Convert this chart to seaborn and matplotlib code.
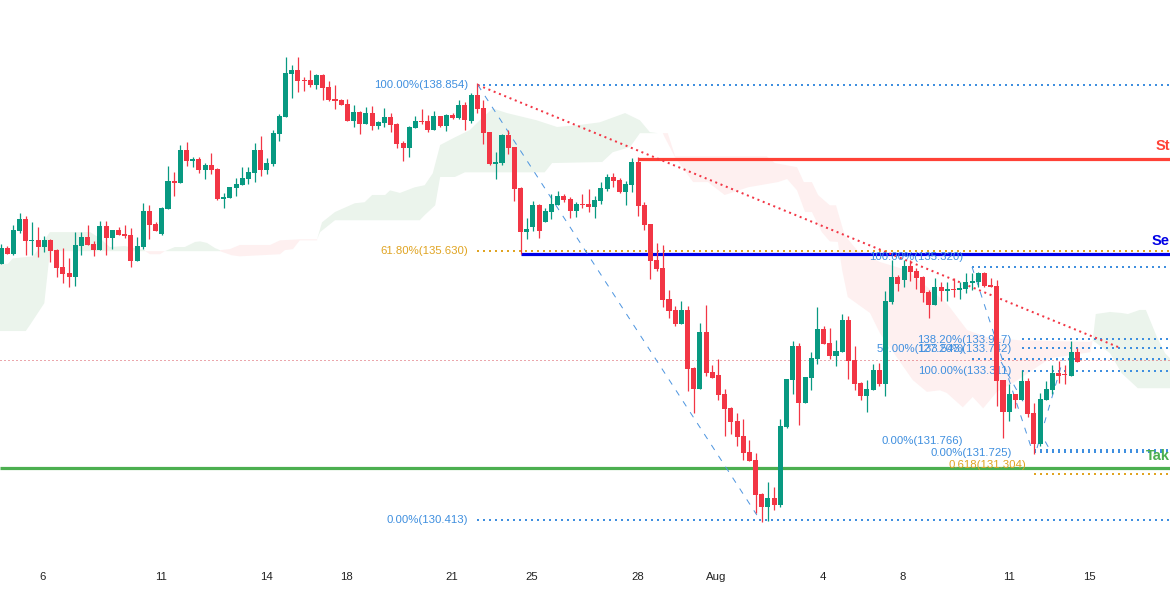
import matplotlib
matplotlib.use("Agg")
import matplotlib.pyplot as plt
import numpy as np
import pandas as pd
import seaborn as sns

direction = list("GRGGRGRGRR" "RRGGRRGRGR" "RRGGRRGGRG" "RGRGRRGGGG" "GGRGGGGGRR"
                 "RGRRRRRGRG" "RGGRRRGGRR" "GRGRGRGRRR" "GGRRRGGRGG" "GRRGRRGGGR"
                 "RGGRRRRRRR" "GRRGRRRRRR" "RRRRGRGGGR" "GGGRRGGRRR" "GGRGGRGRRR"
                 "RGRGRGGGGR" "RRRGRGRRGG" "GRRGR")

body_top = [
 135.69,135.69,136.04,136.25,136.25,135.84,135.84,135.84,135.84,135.65,
 135.32,135.20,135.75,135.90,135.90,135.77,136.12,136.12,136.04,136.04,
 135.96,135.94,135.73,136.41,136.41,136.15,136.46,136.99,136.99,137.59,
 137.59,137.42,137.42,137.30,137.30,137.22,136.68,136.87,136.93,137.05,
 137.16,137.59,137.59,137.34,137.92,138.25,139.08,139.14,139.14,138.95,
 138.95,139.05,139.05,138.81,138.58,138.56,138.48,138.33,138.33,138.31,
 138.31,138.13,138.23,138.23,138.09,137.73,138.04,138.15,138.15,138.15,
 138.25,138.25,138.27,138.27,138.46,138.46,138.66,138.66,138.40,137.94,
 137.36,137.88,137.88,137.65,136.85,136.06,136.52,136.52,136.41,136.54,
 136.70,136.70,136.64,136.54,136.54,136.54,136.62,136.85,137.07,137.07,
 137.01,136.93,137.36,137.36,136.52,136.15,135.46,135.30,134.70,134.49,
 134.49,134.49,133.36,134.06,134.06,133.28,133.23,132.86,132.59,132.33,
 132.04,131.73,131.58,130.92,130.84,130.84,132.24,133.15,133.79,133.79,
 133.19,133.56,134.12,134.12,133.85,133.69,134.29,134.29,133.52,133.07,
 132.95,133.32,133.32,134.66,135.13,135.13,135.34,135.34,135.24,135.13,
 134.84,134.93,134.93,134.89,134.89,134.91,135.03,135.05,135.20,135.20,
 134.97,134.95,133.13,132.86,132.86,133.11,133.11,132.49,132.76,132.95,
 133.26,133.26,133.24,133.67,133.67]
body_bottom = [
 135.38,135.57,135.57,136.02,135.82,135.82,135.71,135.71,135.63,135.30,
 135.18,135.13,135.13,135.73,135.75,135.65,135.65,135.88,135.88,135.94,
 135.92,135.44,135.44,135.71,136.13,136.02,135.96,136.44,136.95,136.95,
 137.38,137.38,137.20,137.20,137.20,136.64,136.64,136.66,136.85,136.91,
 137.03,137.14,137.20,137.20,137.32,137.90,138.23,139.06,138.93,138.93,
 138.85,138.85,138.79,138.56,138.54,138.46,138.15,138.15,138.09,138.09,
 138.06,138.06,138.11,138.08,137.71,137.63,137.63,138.02,138.13,137.98,
 137.98,138.06,138.06,138.21,138.21,138.17,138.15,138.39,137.92,137.32,
 137.32,137.34,137.63,136.83,136.00,136.00,136.10,136.02,136.19,136.39,
 136.52,136.62,136.41,136.41,136.52,136.48,136.48,136.60,136.83,136.99,
 136.78,136.78,136.91,136.50,136.14,135.44,135.28,134.68,134.47,134.21,
 134.21,133.34,132.95,132.95,133.26,133.17,132.84,132.57,132.31,132.02,
 131.71,131.56,130.90,130.66,130.66,130.70,130.70,132.22,133.13,132.68,
 132.68,133.17,133.54,133.83,133.59,133.59,133.67,133.50,133.05,132.82,
 132.82,132.93,133.05,133.05,134.64,134.99,135.07,135.22,135.11,134.82,
 134.58,134.58,134.85,134.85,134.87,134.87,134.89,135.01,135.03,134.95,
 134.93,133.11,132.51,132.51,132.74,132.74,132.47,131.89,131.89,132.74,
 132.93,133.21,133.22,133.21,133.48]
high = [
 135.77,135.73,136.13,136.37,136.31,136.19,136.10,135.92,135.86,135.67,
 135.69,135.49,136.00,136.00,136.13,135.82,136.21,136.21,136.04,136.10,
 136.13,136.08,135.90,136.56,136.52,136.19,136.48,137.28,137.16,137.69,
 137.75,137.45,137.45,137.34,137.53,137.24,136.76,136.87,137.05,137.26,
 137.26,137.73,137.86,137.43,137.98,138.29,139.39,139.24,139.39,139.01,
 139.14,139.06,139.06,138.93,138.85,138.58,138.58,138.46,138.35,138.42,
 138.44,138.15,138.40,138.31,138.11,137.76,138.06,138.25,138.39,138.27,
 138.35,138.25,138.29,138.31,138.56,138.52,138.70,138.89,138.56,137.94,
 137.55,137.90,137.98,137.65,136.87,136.27,136.60,136.54,136.46,136.74,
 136.79,136.74,136.68,136.58,136.74,136.83,136.70,136.97,137.12,137.14,
 137.05,136.99,137.44,137.45,136.58,136.15,135.79,135.75,134.87,134.56,
 134.66,134.56,133.38,134.23,134.58,133.42,133.54,132.95,132.60,132.49,
 132.37,131.96,131.71,130.94,131.15,131.05,132.37,133.15,133.88,133.85,
 133.19,133.67,134.54,134.18,134.14,133.90,134.41,134.37,133.79,133.09,
 133.13,133.44,133.46,134.85,135.46,135.17,135.46,135.46,135.30,135.15,
 134.87,135.11,135.03,135.03,135.11,135.03,135.20,135.20,135.22,135.22,
 135.11,135.07,133.13,133.05,132.86,133.32,133.17,132.68,132.88,133.11,
 133.42,133.50,133.42,133.89,133.75]
low = [
 135.38,135.57,135.55,135.98,135.55,135.55,135.51,135.61,135.42,135.13,
 135.01,134.93,134.95,135.55,135.75,135.53,135.65,135.55,135.67,135.94,
 135.88,135.32,135.44,135.67,135.86,136.02,135.94,136.44,136.70,136.95,
 137.28,137.26,137.14,137.03,137.12,136.62,136.46,136.66,136.70,136.91,
 136.93,136.97,137.09,137.12,137.28,137.76,138.23,138.60,138.71,138.73,
 138.81,138.77,138.56,138.54,138.39,138.46,138.15,138.04,137.90,138.09,
 137.98,138.00,138.04,137.94,137.63,137.38,137.45,138.02,138.09,137.94,
 137.98,138.04,137.96,138.19,138.19,137.98,138.11,138.31,137.71,137.30,
 137.03,137.30,137.51,136.60,135.57,135.86,136.02,135.88,136.19,136.25,
 136.52,136.58,136.27,136.29,136.46,136.39,136.27,136.54,136.79,136.87,
 136.76,136.52,136.78,136.31,136.04,135.09,135.24,134.54,134.33,134.18,
 134.21,132.91,132.49,132.95,133.21,133.17,132.74,132.04,132.08,131.85,
 131.58,131.56,130.55,130.38,130.39,130.61,130.66,132.20,132.86,132.26,
 132.68,132.93,133.44,133.83,133.54,133.40,133.67,133.15,132.93,132.74,
 132.51,132.93,133.01,132.82,134.60,134.85,134.93,135.05,134.89,134.64,
 134.33,134.58,134.66,134.66,134.74,134.70,134.82,134.87,134.93,134.93,
 134.93,132.62,132.00,132.33,132.58,132.74,132.41,131.69,131.85,132.74,
 132.86,133.07,133.05,133.21,133.48]

# Ichimoku cloud patches: candle index and price along the outline
green1_x = [-0.2,1.1,1.9,5.2,6.3,7.9,14.4,16.0,17.6,20.0,23.3,23.3,8.2,7.9,7.0,4.7,4.0,-0.2]
green1_y = [135.38,135.38,135.49,135.53,135.71,136.00,136.00,135.88,135.71,135.73,135.65,135.63,135.63,135.61,134.62,134.20,134.08,134.08]
pink1_x = [23.3,26.5,25.7,24.1]
pink1_y = [135.63,135.63,135.57,135.57]
green2_x = [26.5,28.1,29.7,31.4,32.2,33.3,34.6,35.4,35.4]
green2_y = [135.63,135.71,135.71,135.81,135.82,135.79,135.69,135.65,135.63]
pink2_x = [35.4,37.0,38.6,43.5,45.1,48.3,51.1,51.1,48.3,47.2,45.9,45.1,38.6,37.3,35.4]
pink2_y = [135.65,135.67,135.75,135.75,135.84,135.86,135.86,135.84,135.84,135.67,135.65,135.57,135.53,135.55,135.63]
green3_x = [51.1,51.9,54.0,57.2,58.8,60.0,62.1,62.9,64.5,66.9,68.5,69.8,71.0,73.4,75.8,77.4,79.5,81.8,86.6,89.9,93.6,96.8,100.9,103.3,104.9,106.2,
            103.3,101.7,98.9,97.2,89.1,87.9,75.0,73.4,71.0,70.2,68.5,67.7,54.0,51.6]
green3_y = [135.86,136.19,136.39,136.56,136.58,136.72,136.72,136.81,136.76,136.87,136.91,137.14,137.69,137.84,137.98,138.17,138.40,138.31,138.17,138.04,138.08,138.13,138.31,138.17,137.94,137.92,
            137.92,137.65,137.55,137.36,137.34,137.16,137.16,137.07,137.07,136.52,136.33,136.23,136.23,136.00]
pink3_x = [107.0,107.8,109.0,123.8,125.1,128.7,129.8,131.1,132.1,134.0,135.0,136.4,138.4,142.1,146.5,152.9,156.2,159.4,164.7,176.1,176.5,
           176.1,169.6,163.6,161.0,158.8,157.1,155.5,152.9,151.8,149.7,147.4,142.1,140.5,136.9,136.0,135.3,134.0,132.7,131.1,130.0,128.7,127.1,125.6,120.8,117.0,114.3,111.9,109.0,107.3]
pink3_y = [137.92,137.92,137.47,137.47,137.34,137.26,136.97,136.97,136.72,136.52,136.52,135.94,135.65,135.42,135.26,134.62,134.10,133.96,133.90,133.87,133.90,
           133.67,133.55,133.07,132.90,132.58,132.80,132.60,132.88,132.93,132.90,133.13,134.04,134.43,134.74,135.26,135.81,135.82,136.00,136.39,136.39,136.81,137.03,136.97,136.87,136.72,136.97,136.97,137.45,137.84]
green4_x = [176.5,177.0,179.3,181.2,182.2,184.1,185.1,186.9,188.2,189.0,189.0,183.8,181.2,179.3]
green4_y = [133.90,134.41,134.45,134.43,134.41,134.49,134.49,133.96,133.65,133.55,132.97,132.97,133.26,133.65]

# Horizontal levels: price, first candle index, colour kind
fib_blue_levels = [138.854, 130.413, 135.32, 133.917, 133.742, 133.54, 133.311, 131.766, 131.725]
fib_blue_starts = [77, 77, 157, 165, 165, 157, 165, 167, 167]
fib_orange_levels = [135.63, 131.304]
fib_orange_starts = [77, 167]
stop_level, sell_level, take_level = 137.418, 135.575, 131.42
stop_start, sell_start = 103.0, 84.1
last_price = 133.52

# Labels
label_text = ["100.00%(138.854)", "0.00%(130.413)", "100.00%(135.320)", "138.20%(133.917)",
              "127.20%(133.742)", "50.00%(133.543)", "100.00%(133.311)", "0.00%(131.766)", "0.00%(131.725)"]
label_x = [75.5, 75.5, 155.5, 163.4, 163.4, 155.8, 163.3, 155.5, 163.4]
label_y = [138.854, 130.413, 135.52, 133.91, 133.73, 133.73, 133.30, 131.95, 131.71]
orange_text = ["61.80%(135.630)", "0.618(131.304)"]
orange_x = [75.5, 165.7]
orange_y = [135.63, 131.48]

# Sloped drawings: candle index and price pairs
trend_x = [77.1, 180.6]
trend_y = [138.854, 133.77]
leg_main_x = [77.1, 122.2]
leg_main_y = [138.854, 130.51]
leg_a_x = [157.0, 166.8]
leg_a_y = [135.32, 131.73]
leg_b_x = [161.7, 169.6]
leg_b_y = [133.48, 131.77]
leg_c_x = [167.5, 171.7]
leg_c_y = [131.81, 133.52]

tick_pos = [6.8, 25.9, 43.0, 55.9, 72.9, 85.8, 103.0, 115.7, 132.9, 145.8, 163.0, 175.9]
tick_labels = ["6", "11", "14", "18", "21", "25", "28", "Aug", "4", "8", "11", "15"]

sns.set_theme(style="white")
plt.rcParams["font.family"] = ["Liberation Sans", "DejaVu Sans"]

UP, DOWN = "#089981", "#f23645"
BLUE, ORANGE = "#3f8fdf", "#e0a422"
CLOUD_G, CLOUD_R = "#ebf4ec", "#fef0f0"

df = pd.DataFrame({"idx": np.arange(len(direction)), "direction": direction,
                   "top": body_top, "bottom": body_bottom, "high": high, "low": low})
df["color"] = df["direction"].map({"G": UP, "R": DOWN})

fig = plt.figure(figsize=(11.7, 5.97), dpi=100)
ax = fig.add_axes([0, 0, 1, 1])
ax.set_xlim(-0.162, 189.0)
ax.set_ylim(128.919, 140.504)

for xs, ys, c in [(green1_x, green1_y, CLOUD_G), (pink1_x, pink1_y, CLOUD_R), (green2_x, green2_y, CLOUD_G),
                  (pink2_x, pink2_y, CLOUD_R), (green3_x, green3_y, CLOUD_G), (pink3_x, pink3_y, CLOUD_R),
                  (green4_x, green4_y, CLOUD_G)]:
    ax.fill(xs, ys, color=c, lw=0, zorder=1)

dots = (0, (1, 2))
for lev, st in zip(fib_blue_levels, fib_blue_starts):
    ax.plot([st, 189], [lev, lev], color=BLUE, lw=1.44, ls=dots, zorder=2)
for lev, st in zip(fib_orange_levels, fib_orange_starts):
    ax.plot([st, 189], [lev, lev], color=ORANGE, lw=1.44, ls=dots, zorder=2)
ax.plot([-0.2, 189], [last_price, last_price], color="#d9505a", lw=0.72, ls=(0, (1, 3)), zorder=2)

ax.plot([stop_start, 189], [stop_level, stop_level], color="#ff4136", lw=2.3, solid_capstyle="butt", zorder=2)
ax.plot([sell_start, 189], [sell_level, sell_level], color="#0000e6", lw=2.3, solid_capstyle="butt", zorder=2)
ax.plot([-0.2, 189], [take_level, take_level], color="#4caf50", lw=2.3, solid_capstyle="butt", zorder=2)

sns.lineplot(x=trend_x, y=trend_y, ax=ax, color=DOWN, lw=1.44, ls=(0, (1, 1.85)), zorder=2, legend=False)
for xs, ys in [(leg_main_x, leg_main_y), (leg_a_x, leg_a_y), (leg_b_x, leg_b_y), (leg_c_x, leg_c_y)]:
    sns.lineplot(x=xs, y=ys, ax=ax, color="#4f96e0", lw=0.72, ls=(0, (6, 7)), zorder=2, legend=False)

for t, x, y in zip(label_text, label_x, label_y):
    ax.text(x, y, t, color=BLUE, fontsize=8.2, ha="right", va="center", zorder=2.5)
for t, x, y in zip(orange_text, orange_x, orange_y):
    ax.text(x, y, t, color=ORANGE, fontsize=8.2, ha="right", va="center", zorder=2.5)

ax.text(189, 137.67, "St", color="#ff4136", fontsize=10.5, fontweight="bold", ha="right", va="center", zorder=2.5)
ax.text(189, 135.83, "Se", color="#0000e6", fontsize=10.5, fontweight="bold", ha="right", va="center", zorder=2.5)
ax.text(189, 131.65, "Tak", color="#4caf50", fontsize=10.5, fontweight="bold", ha="right", va="center", zorder=2.5)

ax.vlines(df["idx"], df["low"], df["high"], colors=df["color"], lw=0.9, zorder=3)
ax.bar(df["idx"], df["top"] - df["bottom"], bottom=df["bottom"], width=0.81, color=df["color"], lw=0, zorder=3.1)

ax.set_xticks(tick_pos)
ax.set_xticklabels(tick_labels, fontsize=8.2, color="#222222")
ax.tick_params(axis="x", direction="in", length=0, pad=-18)
ax.set_yticks([])
ax.set_xlabel("")
ax.set_ylabel("")
sns.despine(ax=ax, left=True, bottom=True)
fig.savefig("out.png", dpi=100, facecolor="white")
